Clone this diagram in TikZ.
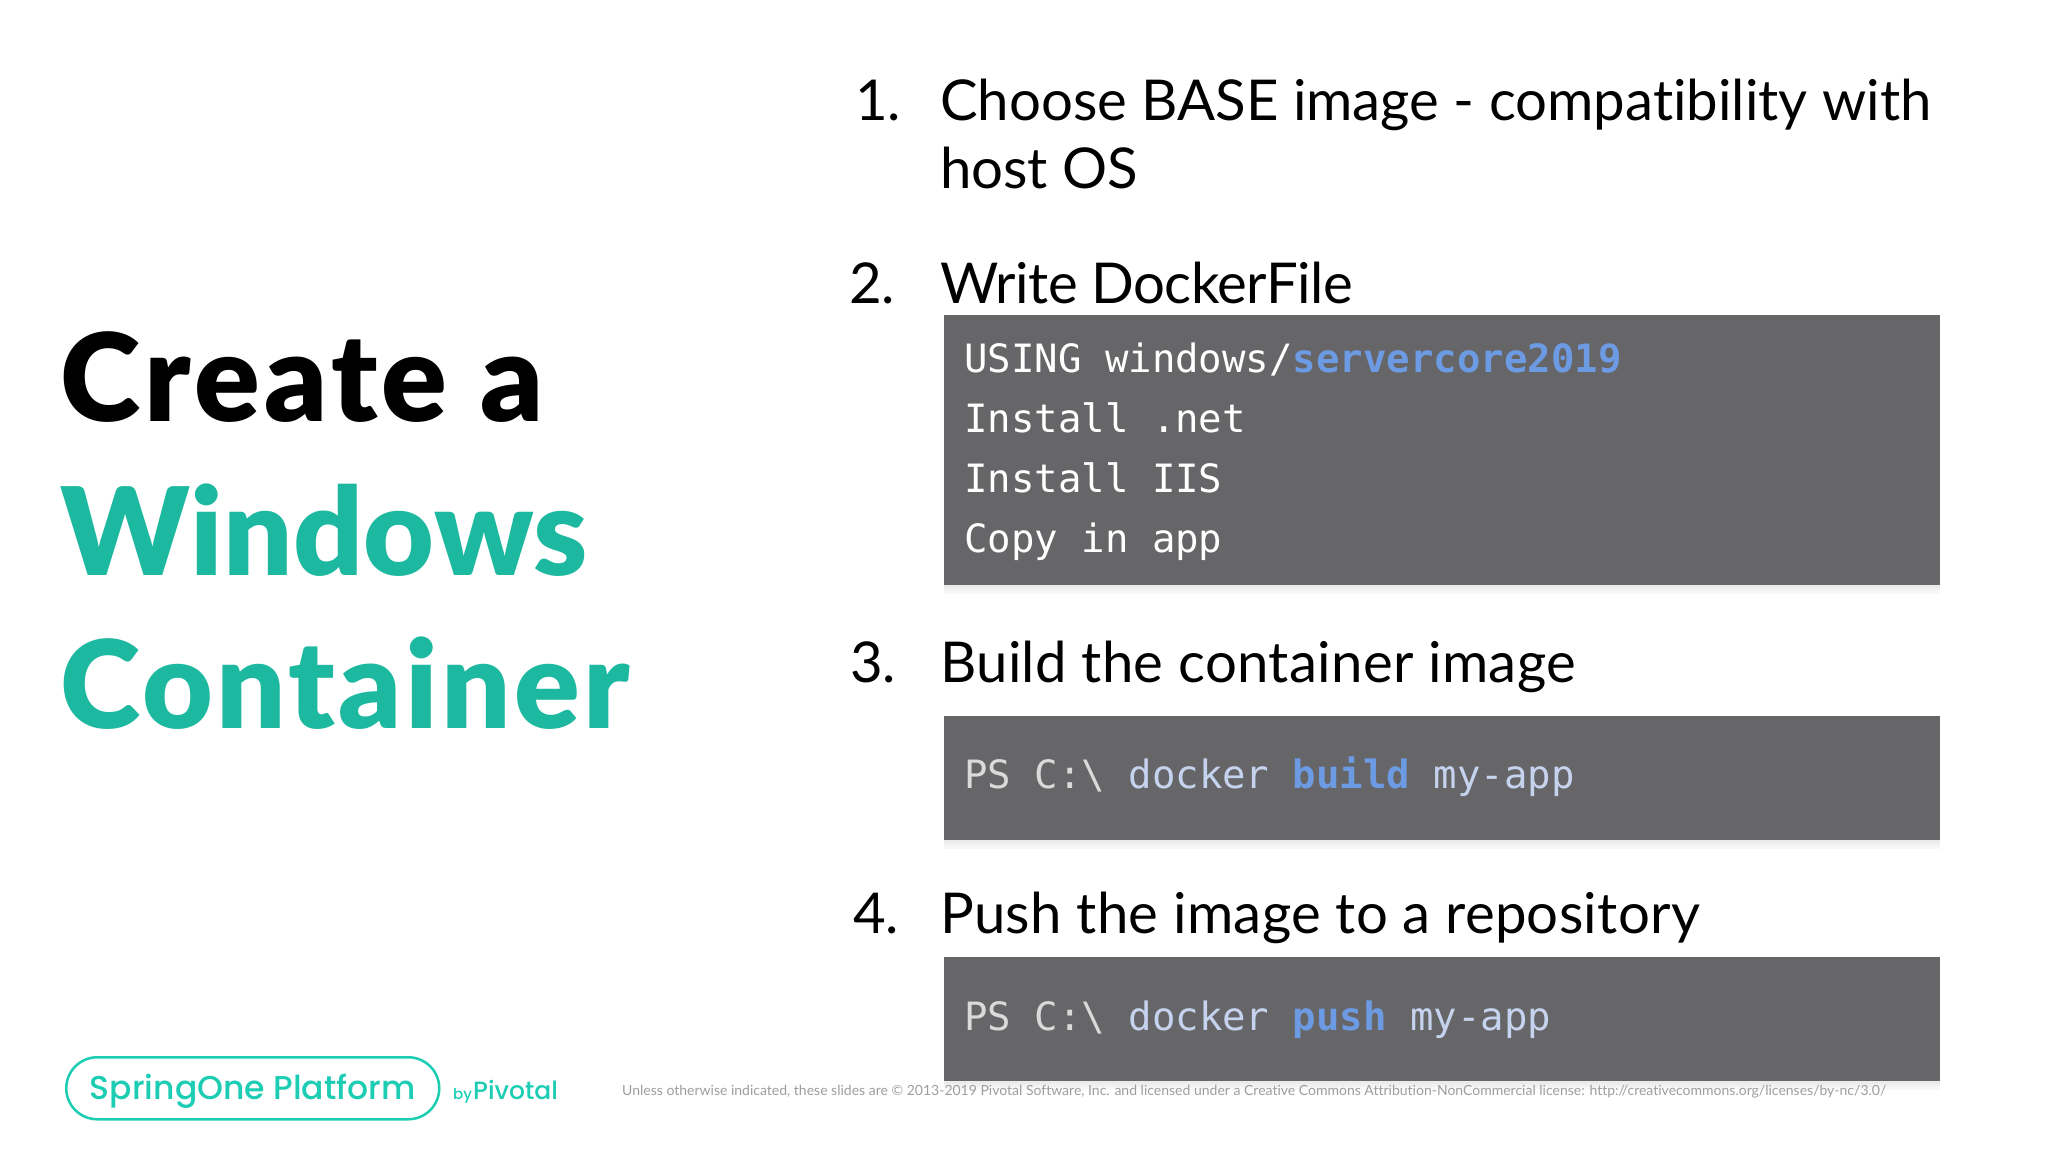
\documentclass[tikz,border=0pt]{standalone}
\usepackage{fontspec}
\setmainfont[Ligatures=NoCommon]{Lato}
\setmonofont{DejaVu Sans Mono}
\newfontfamily\logofont{Poppins Medium}
\newfontfamily\titlefont{Lato Black}
\usetikzlibrary{shadows}
\definecolor{tealtitle}{HTML}{1DB8A0}
\definecolor{teallogo}{HTML}{1CCDB4}
\definecolor{codebg}{HTML}{666668}
\definecolor{codeblue}{HTML}{6C9BE3}
\definecolor{codepale}{HTML}{C6D3EE}
\definecolor{codegrey}{HTML}{DADADA}
\begin{document}
\begin{tikzpicture}[x=1pt, y=-1pt,
      titel/.style={anchor=base west, inner sep=0pt, font=\fontsize{122}{122}\titlefont},
      kohta/.style={anchor=base west, inner sep=0pt, font=\fontsize{56.3}{56.3}\selectfont},
      koodi/.style={anchor=base west, inner sep=0pt, text=white, font=\fontsize{39}{39}\ttfamily},
      varjo/.style={drop shadow={shadow xshift=0pt, shadow yshift=-#1, opacity=.05}},
      laatikko/.style={fill=codebg, varjo=3pt, varjo=6pt, varjo=9pt}]

      \useasboundingbox [fill=white] (0,0) rectangle (2048,1152);

      % Otsikko
      \node [titel] (create) at (60,421) {\addfontfeature{LetterSpace=3.6}Create a};
      \node [titel, text=tealtitle] (windows) at (60,575) {\addfontfeature{LetterSpace=.5}Windows};
      \node [titel, text=tealtitle] (container) at (60,728) {\addfontfeature{LetterSpace=2.8}Container};

      % Kohdat
      \node [kohta] (num1) at (855,120) {1.};
      \node [kohta] (item1) at (940,120) {Choose BASE image - compatibility with};
      \node [kohta] (item1b) at (940,188) {host OS};
      \node [kohta] (num2) at (849,303) {2.};
      \node [kohta] (item2) at (940,303) {\addfontfeature{LetterSpace=-1}Write DockerFile};
      \node [kohta] (num3) at (850,682) {3.};
      \node [kohta] (item3) at (940,682) {\addfontfeature{LetterSpace=.55}Build the container image};
      \node [kohta] (num4) at (853,933) {4.};
      \node [kohta] (item4) at (940,933) {\addfontfeature{LetterSpace=.55}Push the image to a repository};

      % Laatikot
      \path [laatikko] (944,315) rectangle (1940,585);
      \path [laatikko] (944,716) rectangle (1940,840);
      \path [laatikko] (944,957) rectangle (1940,1081);

      % Koodi
      \node [koodi] (using) at (964,372) {USING windows/\textcolor{codeblue}{\bfseries servercore2019}};
      \node [koodi] (net) at (964,432) {Install .net};
      \node [koodi] (iis) at (964,492) {Install IIS};
      \node [koodi] (copy) at (964,552) {Copy in app};
      \node [koodi, text=codegrey] (build) at (964,788) {PS C:\textbackslash{} \textcolor{codepale}{docker} \textcolor{codeblue}{\bfseries build} \textcolor{codepale}{my-app}};
      \node [koodi, text=codegrey] (push) at (964,1030) {PS C:\textbackslash{} \textcolor{codepale}{docker} \textcolor{codeblue}{\bfseries push} \textcolor{codepale}{my-app}};

      % Alalaita
      \node [draw=teallogo, line width=2.5bp, rounded corners=31pt, minimum width=373pt,
        minimum height=62pt, anchor=north west, inner sep=0pt] (logo) at (65,1056) {};
      \node [anchor=base, inner sep=0pt, text=teallogo, font=\fontsize{33}{33}\logofont] (spring)
        at ([yshift=-11pt]logo.center) {SpringOne Platform};
      \node [anchor=base west, inner sep=0pt, text=teallogo, font=\fontsize{15}{15}\logofont] (by) at (453,1099) {by};
      \node [anchor=base west, inner sep=0pt, text=teallogo, font=\fontsize{25}{25}\logofont] (pivotal) at (473,1099) {Pivotal};
      \node [anchor=base west, inner sep=0pt, text=black!38, font=\fontsize{14}{14}\selectfont] (legal) at (622,1095)
        {Unless otherwise indicated, these slides are © 2013-2019 Pivotal Software, Inc. and licensed under a Creative Commons Attribution-NonCommercial license: http://creativecommons.org/licenses/by-nc/3.0/};
    \end{tikzpicture}
\end{document}
